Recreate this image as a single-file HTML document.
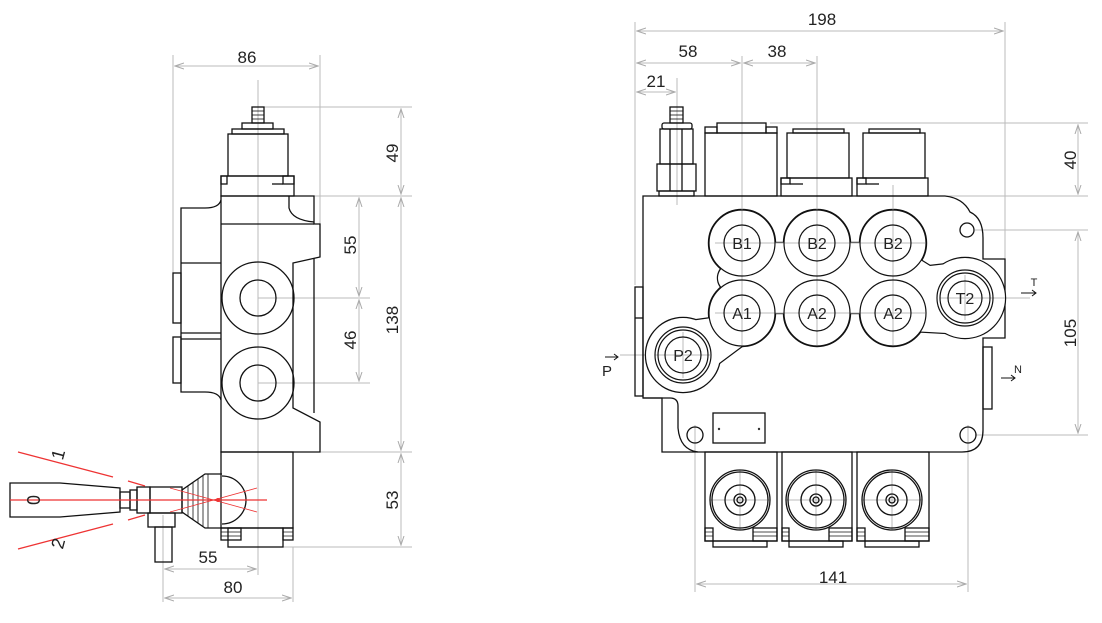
<!DOCTYPE html>
<html><head><meta charset="utf-8"><style>
html,body{margin:0;padding:0;background:#fff;}
svg{display:block;}
text{font-family:"Liberation Sans",sans-serif;fill:#222;}
</style></head><body>
<svg width="1102" height="623" viewBox="0 0 1102 623" xmlns="http://www.w3.org/2000/svg">
<defs>
<marker id="a" markerWidth="10" markerHeight="8" refX="9" refY="4" orient="auto-start-reverse" markerUnits="userSpaceOnUse">
<path d="M0,1 L9,4 L0,7" fill="none" stroke="#aaa" stroke-width="1"/>
</marker>
</defs>
<rect width="1102" height="623" fill="#fff"/>

<!-- ================= LEFT VIEW ================= -->
<g stroke="#bbb" stroke-width="1" fill="none">
 <line x1="173" y1="55" x2="173" y2="273"/>
 <line x1="320" y1="55" x2="320" y2="224"/>
 <line x1="175" y1="66" x2="318" y2="66" marker-start="url(#a)" marker-end="url(#a)"/>
 <line x1="258" y1="80" x2="258" y2="575"/>
 <line x1="264" y1="107" x2="412" y2="107"/>
 <line x1="314" y1="196" x2="412" y2="196"/>
 <line x1="320" y1="452" x2="412" y2="452"/>
 <line x1="283" y1="547" x2="412" y2="547"/>
 <line x1="401" y1="109" x2="401" y2="194" marker-start="url(#a)" marker-end="url(#a)"/>
 <line x1="401" y1="198" x2="401" y2="450" marker-start="url(#a)" marker-end="url(#a)"/>
 <line x1="401" y1="454" x2="401" y2="545" marker-start="url(#a)" marker-end="url(#a)"/>
 <line x1="258" y1="298" x2="370" y2="298"/>
 <line x1="258" y1="383" x2="370" y2="383"/>
 <line x1="359" y1="198" x2="359" y2="296" marker-start="url(#a)" marker-end="url(#a)"/>
 <line x1="359" y1="300" x2="359" y2="381" marker-start="url(#a)" marker-end="url(#a)"/>
 <line x1="163" y1="515" x2="163" y2="602"/>
 <line x1="293" y1="547" x2="293" y2="602"/>
 <line x1="165" y1="569" x2="256" y2="569" marker-start="url(#a)" marker-end="url(#a)"/>
 <line x1="165" y1="598" x2="291" y2="598" marker-start="url(#a)" marker-end="url(#a)"/>
</g>
<g font-size="17">
 <text x="247" y="63" text-anchor="middle">86</text>
 <text transform="translate(398,153) rotate(-90)" text-anchor="middle">49</text>
 <text transform="translate(398,320) rotate(-90)" text-anchor="middle">138</text>
 <text transform="translate(398,500) rotate(-90)" text-anchor="middle">53</text>
 <text transform="translate(356,245) rotate(-90)" text-anchor="middle">55</text>
 <text transform="translate(356,340) rotate(-90)" text-anchor="middle">46</text>
 <text x="208" y="563" text-anchor="middle">55</text>
 <text x="233" y="593" text-anchor="middle">80</text>
</g>
<g stroke="#111" stroke-width="1.3" fill="none">
 <rect x="252" y="107" width="12" height="16"/>
 <line x1="252" y1="111" x2="264" y2="111" stroke-width="0.8"/><line x1="252" y1="115" x2="264" y2="115" stroke-width="0.8"/><line x1="252" y1="119" x2="264" y2="119" stroke-width="0.8"/>
 <rect x="242" y="123" width="31" height="6"/>
 <rect x="232" y="129" width="52" height="5"/>
 <rect x="228" y="134" width="60" height="42"/>
 <rect x="221" y="176" width="73" height="20"/>
 <rect x="221" y="176" width="6" height="8"/><rect x="283" y="176" width="11" height="8"/>
 <line x1="272" y1="184" x2="283" y2="184"/>
 <path d="M221,196 L314,196 L314,224 L320,224 L320,257 L293,263 L293,408 L320,422 L320,452 L221,452 Z"/>
 <line x1="221" y1="224" x2="314" y2="224"/>
 <path d="M289,196 L289,208 Q292,220 314,222"/>
 <line x1="314" y1="258" x2="314" y2="413"/>
 <path d="M221,200 Q219,208 205,208 L181,208 L181,392 L205,392 Q219,392 221,400"/>
 <line x1="181" y1="263" x2="221" y2="263"/>
 <line x1="181" y1="333" x2="221" y2="333"/>
 <line x1="181" y1="339" x2="221" y2="339"/>
 <rect x="173" y="273" width="8" height="50"/>
 <rect x="173" y="337" width="8" height="46"/>
 <circle cx="258" cy="298" r="36"/><circle cx="258" cy="298" r="18"/>
 <circle cx="258" cy="383" r="36"/><circle cx="258" cy="383" r="18"/>
 <rect x="221" y="452" width="72" height="76"/>
 <rect x="228" y="528" width="55" height="19"/>
 <rect x="221" y="528" width="20" height="12"/>
 <rect x="283" y="528" width="10" height="12"/>
 <path d="M222,474 L205,474 L182,490 L182,512 L205,528 L222,528"/>
 <path d="M222,476 A24,24 0 0 1 222,524"/>
 <line x1="188" y1="486" x2="188" y2="516" stroke-width="0.8"/>
 <line x1="193" y1="482" x2="193" y2="520" stroke-width="0.8"/>
 <line x1="198" y1="479" x2="198" y2="523" stroke-width="0.8"/>
 <line x1="203" y1="476" x2="203" y2="526" stroke-width="0.8"/>
 <line x1="208" y1="474" x2="208" y2="528" stroke-width="0.8"/>
 <path d="M10,483 L60,483 L120,488 L120,512 L60,517 L10,517 Z"/>
 <rect x="120" y="492" width="10" height="16"/>
 <rect x="130" y="490" width="7" height="20"/>
 <rect x="137" y="487" width="13" height="26"/>
 <rect x="150" y="487" width="32" height="26"/>
 <rect x="148" y="513" width="27" height="14"/>
 <rect x="155" y="527" width="17" height="35"/>
</g>
<g stroke="#e33" stroke-width="1.2">
 <line x1="10" y1="500" x2="267" y2="500"/>
 <line x1="18" y1="452" x2="113" y2="477"/>
 <line x1="128" y1="481" x2="145" y2="486"/>
 <line x1="170" y1="488" x2="257" y2="512" stroke-width="0.8"/>
 <line x1="18" y1="549" x2="113" y2="524"/>
 <line x1="128" y1="520" x2="145" y2="515"/>
 <line x1="170" y1="512" x2="257" y2="488" stroke-width="0.8"/>
</g>
<circle cx="218" cy="500" r="2" fill="#e33"/>
<g font-size="18">
 <text transform="translate(27,500) rotate(90)" text-anchor="middle">0</text>
 <text transform="translate(64,456) rotate(-75)" text-anchor="middle">1</text>
 <text transform="translate(64,545) rotate(-75)" text-anchor="middle">2</text>
</g>

<!-- ================= RIGHT VIEW ================= -->
<g stroke="#bbb" stroke-width="1" fill="none">
 <line x1="635" y1="22" x2="635" y2="285"/>
 <line x1="1005" y1="22" x2="1005" y2="259"/>
 <line x1="637" y1="31" x2="1003" y2="31" marker-start="url(#a)" marker-end="url(#a)"/>
 <line x1="742" y1="56" x2="742" y2="345"/>
 <line x1="817" y1="56" x2="817" y2="345"/>
 <line x1="893" y1="185" x2="893" y2="345"/>
 <line x1="637" y1="63" x2="740" y2="63" marker-start="url(#a)" marker-end="url(#a)"/>
 <line x1="744" y1="63" x2="815" y2="63" marker-start="url(#a)" marker-end="url(#a)"/>
 <line x1="677" y1="78" x2="677" y2="205"/>
 <line x1="637" y1="92" x2="675" y2="92" marker-start="url(#a)" marker-end="url(#a)"/>
 <line x1="770" y1="123" x2="1088" y2="123"/>
 <line x1="945" y1="196" x2="1088" y2="196"/>
 <line x1="975" y1="230" x2="1088" y2="230"/>
 <line x1="975" y1="435" x2="1088" y2="435"/>
 <line x1="1078" y1="125" x2="1078" y2="194" marker-start="url(#a)" marker-end="url(#a)"/>
 <line x1="1078" y1="232" x2="1078" y2="433" marker-start="url(#a)" marker-end="url(#a)"/>
 <line x1="940" y1="298" x2="1030" y2="298"/>
 <line x1="620" y1="355" x2="710" y2="355"/>
 <line x1="695" y1="425" x2="695" y2="592"/>
 <line x1="968" y1="425" x2="968" y2="592"/>
 <line x1="697" y1="584" x2="966" y2="584" marker-start="url(#a)" marker-end="url(#a)"/>
 <line x1="740" y1="470" x2="740" y2="530"/><line x1="710" y1="500" x2="770" y2="500"/>
 <line x1="816" y1="470" x2="816" y2="530"/><line x1="786" y1="500" x2="846" y2="500"/>
 <line x1="892" y1="470" x2="892" y2="530"/><line x1="862" y1="500" x2="922" y2="500"/>
</g>
<g font-size="17">
 <text x="822" y="25" text-anchor="middle">198</text>
 <text x="688" y="57" text-anchor="middle">58</text>
 <text x="777" y="57" text-anchor="middle">38</text>
 <text x="656" y="87" text-anchor="middle">21</text>
 <text transform="translate(1076,160) rotate(-90)" text-anchor="middle">40</text>
 <text transform="translate(1076,333) rotate(-90)" text-anchor="middle">105</text>
 <text x="833" y="583" text-anchor="middle">141</text>
</g>
<g stroke="#111" stroke-width="1.3" fill="none">
 <rect x="670" y="107" width="13" height="16"/>
 <line x1="670" y1="111" x2="683" y2="111" stroke-width="0.8"/><line x1="670" y1="115" x2="683" y2="115" stroke-width="0.8"/><line x1="670" y1="119" x2="683" y2="119" stroke-width="0.8"/>
 <rect x="662" y="123" width="30" height="6" rx="2"/>
 <rect x="660" y="129" width="33" height="35"/>
 <line x1="670" y1="129" x2="670" y2="191"/><line x1="682" y1="129" x2="682" y2="191"/>
 <rect x="657" y="164" width="39" height="27"/>
 <rect x="659" y="191" width="35" height="5"/>
 <rect x="705" y="133" width="72" height="63"/>
 <rect x="717" y="123" width="49" height="10"/>
 <rect x="705" y="127" width="12" height="6"/><rect x="766" y="127" width="11" height="6"/>
 <rect x="787" y="133" width="62" height="45"/>
 <rect x="793" y="129" width="51" height="4"/>
 <rect x="781" y="178" width="71" height="18"/>
 <rect x="781" y="178" width="9" height="6"/><line x1="790" y1="184" x2="803" y2="184"/>
 <rect x="863" y="133" width="62" height="45"/>
 <rect x="869" y="129" width="51" height="4"/>
 <rect x="857" y="178" width="71" height="18"/>
 <rect x="857" y="178" width="9" height="6"/><line x1="866" y1="184" x2="879" y2="184"/>
 <path d="M643,196 L945,196 Q963,198 970,212 Q983,218 983,238 L983,259 L1005,259 L1005,338 L983,338 L983,430 Q983,452 962,452 L662,452 L662,398 L643,398 Z"/>
 <path d="M643,398 L670,398 Q678,398 678,406 L678,428 Q680,450 698,452"/>
 <rect x="635" y="287" width="8" height="109"/><line x1="635" y1="318" x2="643" y2="318"/>
 <rect x="983" y="347" width="9" height="62"/>
 <circle cx="967" cy="230" r="7"/>
 <circle cx="695" cy="435" r="8"/>
 <circle cx="968" cy="435" r="8"/>
 <rect x="713" y="413" width="52" height="30"/>
</g>
<circle cx="719" cy="429" r="1.2" fill="#333"/><circle cx="759" cy="429" r="1.2" fill="#333"/>
<g stroke="#111" stroke-width="2.4" fill="#fff">
 <circle cx="742" cy="243" r="33"/><circle cx="817" cy="243" r="33"/><circle cx="893" cy="243" r="33"/>
 <circle cx="742" cy="313" r="33"/><circle cx="817" cy="313" r="33"/><circle cx="893" cy="313" r="33"/>
 <circle cx="965" cy="298" r="40"/><circle cx="683" cy="355" r="37"/>
 <rect x="742" y="243" width="151" height="70"/>
 <ellipse cx="748" cy="278" rx="30" ry="20"/>
 <polygon points="683,322 712,318 742,313 742,346 683,390"/>
 <polygon points="893,243 930,266 965,262 965,334 893,330"/>
</g>
<g fill="#fff">
 <circle cx="742" cy="243" r="33"/><circle cx="817" cy="243" r="33"/><circle cx="893" cy="243" r="33"/>
 <circle cx="742" cy="313" r="33"/><circle cx="817" cy="313" r="33"/><circle cx="893" cy="313" r="33"/>
 <circle cx="965" cy="298" r="40"/><circle cx="683" cy="355" r="37"/>
 <rect x="742" y="243" width="151" height="70"/>
 <ellipse cx="748" cy="278" rx="30" ry="20"/>
 <polygon points="683,322 712,318 742,313 742,346 683,390"/>
 <polygon points="893,243 930,266 965,262 965,334 893,330"/>
</g>
<g stroke="#bbb" stroke-width="1">
 <line x1="715" y1="243" x2="925" y2="243"/><line x1="715" y1="313" x2="925" y2="313"/>
 <line x1="742" y1="205" x2="742" y2="345"/><line x1="817" y1="205" x2="817" y2="345"/><line x1="893" y1="205" x2="893" y2="345"/>
 <line x1="940" y1="298" x2="1005" y2="298"/><line x1="965" y1="275" x2="965" y2="320"/>
 <line x1="655" y1="355" x2="710" y2="355"/><line x1="683" y1="332" x2="683" y2="378"/>
</g>
<g stroke="#111" stroke-width="1.2" fill="none">
 <circle cx="742" cy="243" r="33"/><circle cx="742" cy="243" r="18"/>
 <circle cx="817" cy="243" r="33"/><circle cx="817" cy="243" r="18"/>
 <circle cx="893" cy="243" r="33"/><circle cx="893" cy="243" r="18"/>
 <circle cx="742" cy="313" r="33"/><circle cx="742" cy="313" r="18"/>
 <circle cx="817" cy="313" r="33"/><circle cx="817" cy="313" r="18"/>
 <circle cx="893" cy="313" r="33"/><circle cx="893" cy="313" r="18"/>
 <circle cx="965" cy="298" r="28"/><circle cx="965" cy="298" r="25"/><circle cx="965" cy="298" r="17"/>
 <circle cx="683" cy="355" r="28"/><circle cx="683" cy="355" r="25"/><circle cx="683" cy="355" r="18"/>
</g>
<g font-size="16" text-anchor="middle">
 <text x="742" y="249">B1</text><text x="817" y="249">B2</text><text x="893" y="249">B2</text>
 <text x="742" y="319">A1</text><text x="817" y="319">A2</text><text x="893" y="319">A2</text>
 <text x="965" y="304">T2</text><text x="683" y="361">P2</text>
</g>
<g stroke="#111" stroke-width="1" fill="none">
 <line x1="605" y1="357" x2="618" y2="357"/><path d="M614,354 L618,357 L614,360"/>
 <line x1="1021" y1="293" x2="1036" y2="293"/><path d="M1032,290 L1036,293 L1032,296"/>
 <line x1="1001" y1="378" x2="1015" y2="378"/><path d="M1011,375 L1015,378 L1011,381"/>
</g>
<text x="607" y="376" font-size="15" text-anchor="middle">P</text>
<text x="1034" y="286" font-size="11" text-anchor="middle">T</text>
<text x="1018" y="373" font-size="11" text-anchor="middle">N</text>
<g stroke="#111" stroke-width="1.3" fill="none">
 <rect x="705" y="452" width="72" height="89"/>
 <rect x="782" y="452" width="70" height="89"/>
 <rect x="857" y="452" width="72" height="89"/>
 <rect x="713" y="541" width="54" height="6"/>
 <rect x="789" y="541" width="54" height="6"/>
 <rect x="865" y="541" width="54" height="6"/>
 <rect x="705" y="528" width="8" height="13"/><rect x="753" y="528" width="24" height="13"/>
 <rect x="782" y="528" width="7" height="13"/><rect x="829" y="528" width="23" height="13"/>
 <rect x="857" y="528" width="8" height="13"/><rect x="905" y="528" width="24" height="13"/>
 <circle cx="740" cy="500" r="30"/><circle cx="740" cy="500" r="28"/><circle cx="740" cy="500" r="15"/><circle cx="740" cy="500" r="6"/><circle cx="740" cy="500" r="3"/>
 <circle cx="816" cy="500" r="30"/><circle cx="816" cy="500" r="28"/><circle cx="816" cy="500" r="15"/><circle cx="816" cy="500" r="6"/><circle cx="816" cy="500" r="3"/>
 <circle cx="892" cy="500" r="30"/><circle cx="892" cy="500" r="28"/><circle cx="892" cy="500" r="15"/><circle cx="892" cy="500" r="6"/><circle cx="892" cy="500" r="3"/>
</g>
<g stroke="#111" stroke-width="0.7">
 <line x1="705" y1="532" x2="713" y2="532"/><line x1="705" y1="536" x2="713" y2="536"/>
 <line x1="753" y1="532" x2="777" y2="532"/><line x1="753" y1="536" x2="777" y2="536"/>
 <line x1="782" y1="532" x2="789" y2="532"/><line x1="782" y1="536" x2="789" y2="536"/>
 <line x1="829" y1="532" x2="852" y2="532"/><line x1="829" y1="536" x2="852" y2="536"/>
 <line x1="857" y1="532" x2="865" y2="532"/><line x1="857" y1="536" x2="865" y2="536"/>
 <line x1="905" y1="532" x2="929" y2="532"/><line x1="905" y1="536" x2="929" y2="536"/>
 <line x1="221" y1="532" x2="241" y2="532"/><line x1="221" y1="536" x2="241" y2="536"/>
 <line x1="283" y1="532" x2="293" y2="532"/><line x1="283" y1="536" x2="293" y2="536"/>
</g>
</svg>
</body></html>
